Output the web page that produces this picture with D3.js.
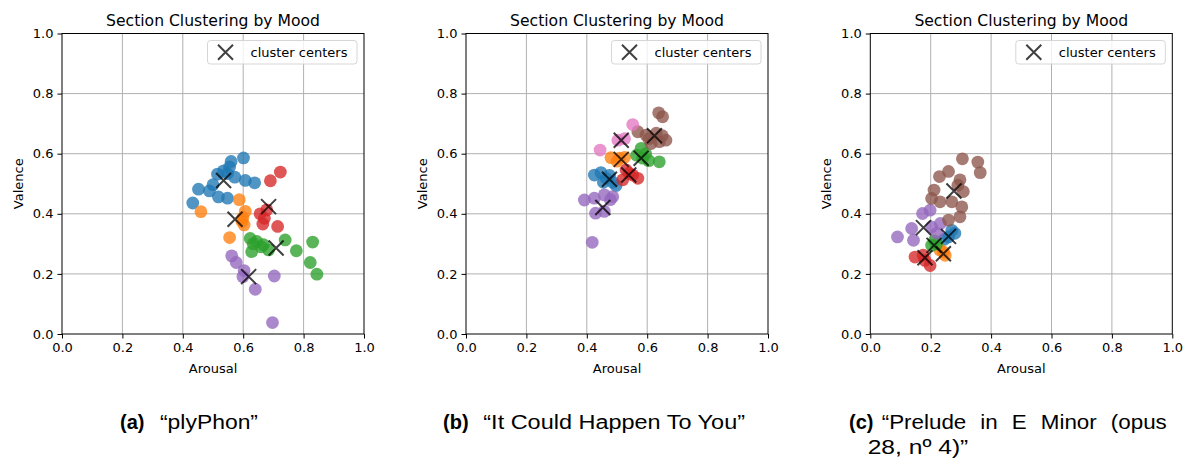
<!DOCTYPE html>
<html><head><meta charset="utf-8">
<script src="https://cdn.jsdelivr.net/npm/d3@7"></script>
<style>body{margin:0;background:#fff} svg{display:block}</style>
</head><body>
<svg id="fig" width="1186" height="460"></svg>
<script>
// ---- data: [arousal, valence] per section, grouped by cluster ----
const axisTicks = [0, 0.2, 0.4, 0.6, 0.8, 1.0];
const chartTitle = "Section Clustering by Mood";
const legendLabel = "cluster centers";

// (a) plyPhon
const plyBlue = [[0.601,0.586],[0.560,0.574],[0.555,0.556],[0.535,0.543],[0.515,0.532],[0.548,0.534],[0.572,0.522],[0.607,0.511],[0.638,0.503],[0.500,0.497],[0.452,0.482],[0.488,0.476],[0.518,0.456],[0.548,0.452],[0.433,0.436]];
const plyOrange = [[0.587,0.447],[0.460,0.407],[0.607,0.408],[0.599,0.388],[0.603,0.363],[0.555,0.321],[0.596,0.375]];
const plyGreen = [[0.623,0.318],[0.645,0.308],[0.633,0.300],[0.628,0.274],[0.667,0.297],[0.684,0.280],[0.660,0.290],[0.739,0.313],[0.776,0.277],[0.830,0.306],[0.822,0.238],[0.844,0.199]];
const plyRed = [[0.723,0.539],[0.690,0.510],[0.656,0.400],[0.665,0.366],[0.714,0.358],[0.678,0.413],[0.670,0.385]];
const plyPurple = [[0.562,0.260],[0.577,0.238],[0.603,0.211],[0.599,0.191],[0.640,0.149],[0.703,0.193],[0.697,0.038]];
const plyCenters = [[0.535,0.511],[0.573,0.382],[0.709,0.286],[0.684,0.424],[0.618,0.191]];

// (b) It Could Happen To You
const ichBlue = [[0.425,0.529],[0.447,0.537],[0.464,0.518],[0.486,0.505],[0.497,0.494],[0.455,0.505],[0.475,0.528]];
const ichOrange = [[0.480,0.587],[0.508,0.585],[0.525,0.588],[0.500,0.575]];
const ichGreen = [[0.580,0.618],[0.585,0.585],[0.605,0.577],[0.640,0.573],[0.565,0.595],[0.595,0.600]];
const ichRed = [[0.530,0.546],[0.552,0.529],[0.569,0.518],[0.519,0.513],[0.540,0.535]];
const ichPurple = [[0.392,0.446],[0.425,0.452],[0.458,0.463],[0.486,0.457],[0.478,0.447],[0.429,0.402],[0.458,0.408],[0.418,0.305]];
const ichBrown = [[0.638,0.736],[0.651,0.723],[0.569,0.673],[0.596,0.662],[0.630,0.668],[0.662,0.645],[0.613,0.634],[0.640,0.640],[0.650,0.660],[0.605,0.650]];
const ichPink = [[0.552,0.697],[0.503,0.645],[0.525,0.650],[0.444,0.612]];
const ichCenters = [[0.475,0.515],[0.514,0.581],[0.580,0.585],[0.539,0.529],[0.453,0.421],[0.624,0.660],[0.514,0.645]];

// (c) Prelude in E Minor
const preBlue = [[0.270,0.345],[0.259,0.323],[0.245,0.315],[0.280,0.335]];
const preOrange = [[0.242,0.273],[0.248,0.262],[0.230,0.280]];
const preGreen = [[0.203,0.295],[0.220,0.300],[0.212,0.310]];
const preRed = [[0.148,0.256],[0.181,0.245],[0.198,0.228],[0.175,0.262]];
const prePurple = [[0.173,0.401],[0.198,0.412],[0.137,0.351],[0.090,0.323],[0.143,0.312],[0.203,0.356],[0.220,0.335],[0.232,0.368]];
const preBrown = [[0.305,0.583],[0.356,0.572],[0.364,0.537],[0.259,0.541],[0.229,0.524],[0.297,0.513],[0.211,0.479],[0.308,0.474],[0.203,0.451],[0.231,0.440],[0.270,0.440],[0.303,0.423],[0.297,0.390],[0.259,0.379],[0.290,0.495]];
const preCenters = [[0.259,0.325],[0.242,0.267],[0.211,0.295],[0.181,0.254],[0.176,0.354],[0.277,0.476]];

const palette = ["#1f77b4","#ff7f0e","#2ca02c","#d62728","#9467bd","#8c564b","#e377c2"];

const panels = [
  {clusters:[plyBlue,plyOrange,plyGreen,plyRed,plyPurple], centers:plyCenters,
   label:"(a)", caption:["\u201CplyPhon\u201D"]},
  {clusters:[ichBlue,ichOrange,ichGreen,ichRed,ichPurple,ichBrown,ichPink], centers:ichCenters,
   label:"(b)", caption:["\u201CIt Could Happen To You\u201D"]},
  {clusters:[preBlue,preOrange,preGreen,preRed,prePurple,preBrown], centers:preCenters,
   label:"(c)", caption:["\u201CPrelude in E Minor (opus","28, n\u00BA 4)\u201D"]}
];

// ---- layout ----
const svg = d3.select("#fig");
const plotW = 302, plotTop = 33.5, plotBottom = 334;
const panelLeft = [62, 466, 870.3];
const tickFont = "DejaVu Sans, sans-serif";

// caption placement per subfigure: label x, text x, text right edge, text-2 x
const captionLayout = [
  {lx:120, tx:160, tr:258},
  {lx:443, tx:483.3, tr:745},
  {lx:849, tx:881.7, tr:1167, l2x:867.7, l2r:968.3}
];

panels.forEach((p, i) => {
  const x0 = panelLeft[i];
  const x = d3.scaleLinear().domain([0,1]).range([x0, x0 + plotW]);
  const y = d3.scaleLinear().domain([0,1]).range([plotBottom, plotTop]);
  const g = svg.append("g");

  // grid
  g.append("g").selectAll("line").data(axisTicks.slice(1,-1)).join("line")
    .attr("x1", d=>x(d)).attr("x2", d=>x(d)).attr("y1", plotTop).attr("y2", plotBottom)
    .attr("stroke","#b0b0b0").attr("stroke-width",1);
  g.append("g").selectAll("line").data(axisTicks.slice(1,-1)).join("line")
    .attr("y1", d=>y(d)).attr("y2", d=>y(d)).attr("x1", x0).attr("x2", x0+plotW)
    .attr("stroke","#b0b0b0").attr("stroke-width",1);

  // points, cluster by cluster
  p.clusters.forEach((pts, c) => {
    g.append("g").selectAll("circle").data(pts).join("circle")
      .attr("cx", d=>x(d[0])).attr("cy", d=>y(d[1])).attr("r", 6.4)
      .attr("fill", palette[c]).attr("fill-opacity", 0.78);
  });

  // cluster centers as X markers
  const s = 7.5;
  g.append("g").selectAll("path").data(p.centers).join("path")
    .attr("d", d => {
      const cx = x(d[0]), cy = y(d[1]);
      return `M${cx-s},${cy-s}L${cx+s},${cy+s}M${cx-s},${cy+s}L${cx+s},${cy-s}`;
    })
    .attr("stroke","#000").attr("stroke-opacity",0.75).attr("stroke-width",2).attr("fill","none");

  // spines
  g.append("rect").attr("x", x0).attr("y", plotTop).attr("width", plotW).attr("height", plotBottom-plotTop)
    .attr("fill","none").attr("stroke","#000").attr("stroke-width",1);

  // axes
  const xAxis = d3.axisBottom(x).tickValues(axisTicks).tickFormat(d3.format(".1f")).tickSizeOuter(0).tickSize(4.5).tickPadding(4);
  const yAxis = d3.axisLeft(y).tickValues(axisTicks).tickFormat(d3.format(".1f")).tickSizeOuter(0).tickSize(4.5).tickPadding(4);
  const gx = g.append("g").attr("transform", `translate(0,${plotBottom})`).call(xAxis);
  const gy = g.append("g").attr("transform", `translate(${x0},0)`).call(yAxis);
  [gx, gy].forEach(a => {
    a.select(".domain").remove();
    a.selectAll("text").attr("font-family", tickFont).attr("font-size", 13).attr("fill","#000");
    a.selectAll("line").attr("stroke","#000");
  });

  // labels
  g.append("text").attr("x", x0 + plotW/2).attr("y", 25.5).attr("text-anchor","middle")
    .attr("font-family", tickFont).attr("font-size", 15.6).text(chartTitle);
  g.append("text").attr("x", x0 + plotW/2).attr("y", 372.5).attr("text-anchor","middle")
    .attr("font-family", tickFont).attr("font-size", 13).text("Arousal");
  g.append("text").attr("transform", `translate(${x0-44},${(plotTop+plotBottom)/2}) rotate(-90)`)
    .attr("text-anchor","middle").attr("dy","0.35em")
    .attr("font-family", tickFont).attr("font-size", 13).text("Valence");

  // legend
  const lw = 149.5, lh = 23.5;
  const lx = x0 + plotW - 7 - lw, ly = plotTop + 7;
  g.append("rect").attr("x", lx).attr("y", ly).attr("width", lw).attr("height", lh).attr("rx", 3)
    .attr("fill","#fff").attr("fill-opacity",0.8).attr("stroke","#d6d6d6").attr("stroke-width",1);
  const mx = lx + 18, my = ly + lh/2;
  g.append("path").attr("d", `M${mx-s},${my-s}L${mx+s},${my+s}M${mx-s},${my+s}L${mx+s},${my-s}`)
    .attr("stroke","#000").attr("stroke-opacity",0.75).attr("stroke-width",2);
  g.append("text").attr("x", lx + 43).attr("y", my).attr("dy","0.35em")
    .attr("font-family", tickFont).attr("font-size", 13).text(legendLabel);

  // caption
  const cl = captionLayout[i];
  const capFont = "Liberation Sans, Arial, Helvetica, sans-serif";
  g.append("text").attr("x", cl.lx).attr("y", 429).attr("font-family", capFont)
    .attr("font-size", 20).attr("font-weight","bold").text(p.label);
  const line1 = g.append("text").attr("x", cl.tx).attr("y", 429).attr("font-family", capFont)
    .attr("font-size", 20).text(p.caption[0]);
  const targetW = cl.tr - cl.tx;
  if (p.caption.length === 1) {
    line1.attr("textLength", targetW).attr("lengthAdjust","spacingAndGlyphs");
  } else {
    // justified first line: stretch glyphs a little and widen word gaps
    const nat = line1.node().getComputedTextLength();
    const stretch = 1.12;
    const spaces = p.caption[0].split(" ").length - 1;
    const ws = (targetW/stretch - nat) / spaces;
    line1.attr("x", 0).attr("transform", `translate(${cl.tx},0) scale(${stretch},1)`)
      .attr("word-spacing", ws);
    g.append("text").attr("x", cl.l2x).attr("y", 453.5).attr("font-family", capFont)
      .attr("font-size", 20).attr("textLength", cl.l2r - cl.l2x).attr("lengthAdjust","spacingAndGlyphs")
      .text(p.caption[1]);
  }
});
</script></body></html>
